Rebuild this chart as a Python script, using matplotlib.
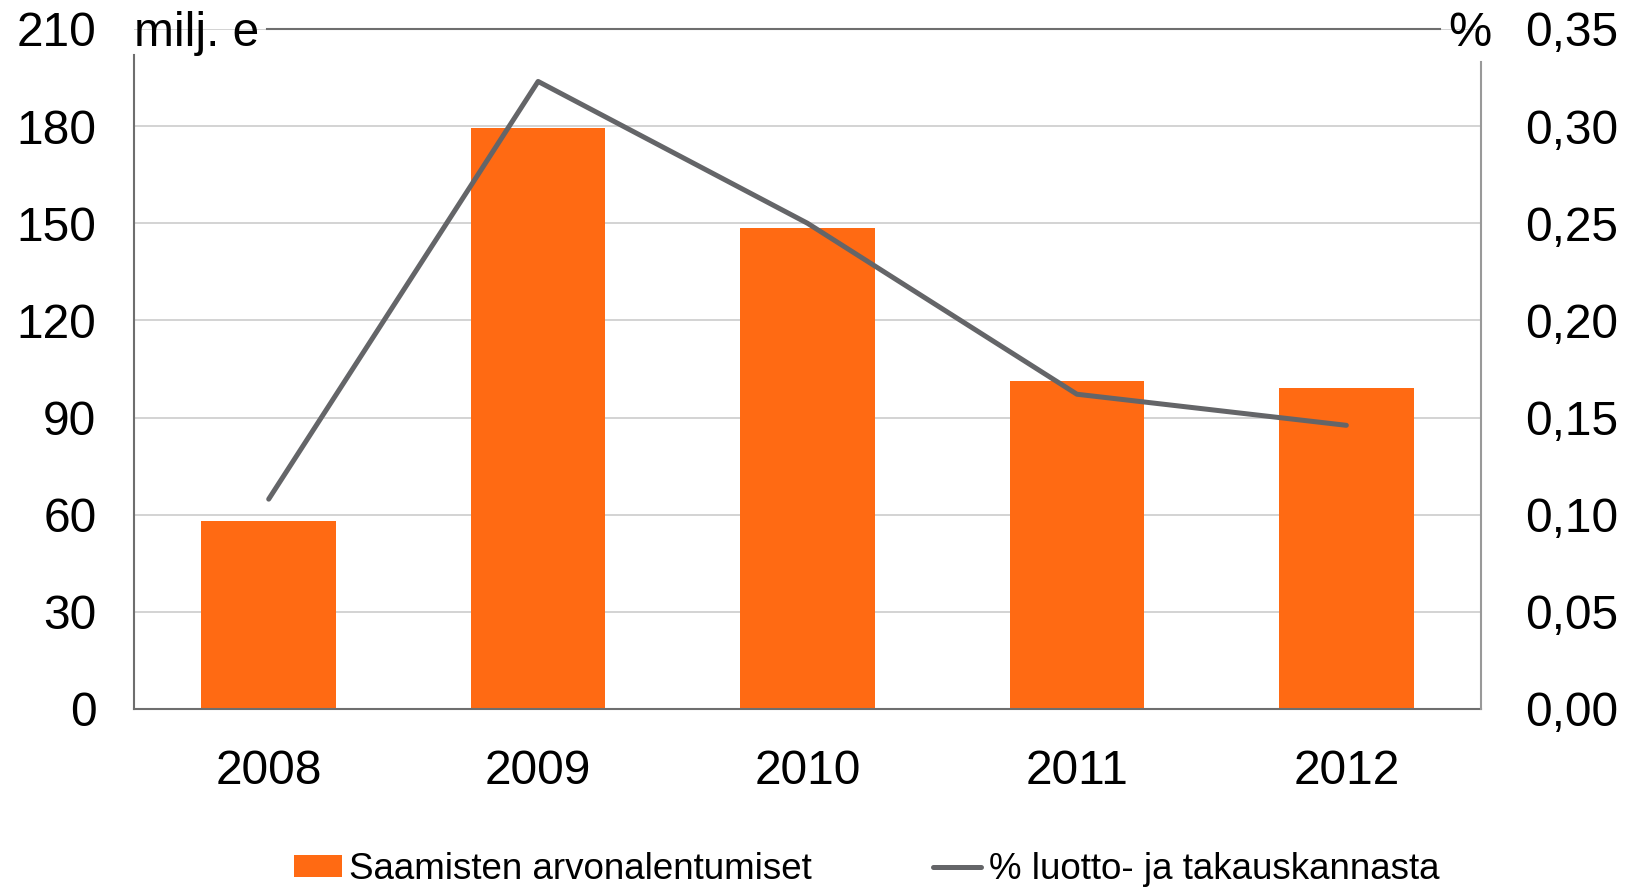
import matplotlib.pyplot as plt
from matplotlib.ticker import FixedLocator

plt.rcParams['font.family'] = ['Liberation Sans', 'DejaVu Sans']

# Impairment data
years = ['2008', '2009', '2010', '2011', '2012']
impairments = [58.2, 179.4, 148.6, 101.3, 99.0]          # milj. e
share_pct = [0.108, 0.323, 0.250, 0.162, 0.146]          # % of loan and guarantee stock

left_ticks = [0, 30, 60, 90, 120, 150, 180, 210]
right_ticks = [0.00, 0.05, 0.10, 0.15, 0.20, 0.25, 0.30, 0.35]
right_labels = ['0,00', '0,05', '0,10', '0,15', '0,20', '0,25', '0,30', '0,35']

bar_label = 'Saamisten arvonalentumiset'
line_label = '% luotto- ja takauskannasta'

orange = '#FF6A13'
line_grey = '#646568'
spine_grey = '#6e6e6e'

fig = plt.figure(figsize=(16.32, 8.92), dpi=100)
ax = fig.add_axes([0.0821, 0.2052, 0.8254, 0.7623])
ax2 = ax.twinx()

x = list(range(len(years)))
bars = ax.bar(x, impairments, width=0.5, color=orange, zorder=2, label=bar_label)
line, = ax2.plot(x, share_pct, color=line_grey, lw=3.6, solid_capstyle='round',
                 zorder=3, label=line_label)

ax.set_xlim(-0.5, len(years) - 0.5)
ax.set_ylim(0, 210)
ax2.set_ylim(0, 0.35)

ax.set_xticks(x)
ax.set_xticklabels(years)
ax.yaxis.set_major_locator(FixedLocator(left_ticks))
ax2.yaxis.set_major_locator(FixedLocator(right_ticks))
ax2.set_yticklabels(right_labels)

ax.tick_params(axis='y', length=0, pad=27, labelsize=34.5)
ax.tick_params(axis='x', length=0, pad=29, labelsize=34.5)
ax2.tick_params(axis='y', length=0, pad=32, labelsize=34.5)

# light horizontal grid behind the bars
ax.set_axisbelow(True)
ax.grid(axis='y', color='#cccccc', lw=1.2, zorder=0)
ax.grid(axis='x', visible=False)

# spines: left/bottom dark, right lighter, top acts as the 210 line
for s in ['left', 'bottom', 'top']:
    ax.spines[s].set_color(spine_grey)
    ax.spines[s].set_linewidth(1.5)
ax.spines['right'].set_visible(False)
ax.spines['left'].set_bounds(0, 202)
ax.spines['top'].set_bounds(-0.005, 4.346)
for s in ['left', 'bottom', 'top']:
    ax2.spines[s].set_visible(False)
ax2.spines['right'].set_color('#999999')
ax2.spines['right'].set_linewidth(1.5)
ax2.spines['right'].set_bounds(0, 0.333)

# axis unit labels sitting on the top line
ax.text(0.0, 210, 'milj. e', transform=ax.get_yaxis_transform(),
        ha='left', va='center_baseline', fontsize=34.5)
ax.text(0.992, 210, '%', transform=ax.get_yaxis_transform(),
        ha='center', va='center_baseline', fontsize=35)

fig.legend([bars, line], [bar_label, line_label], loc='center',
           bbox_to_anchor=(0.531, 0.025), ncol=2, frameon=False,
           fontsize=26.5, handlelength=1.3, handleheight=0.55,
           handletextpad=0.2, columnspacing=3.3)

fig.savefig('out.png', dpi=100)
